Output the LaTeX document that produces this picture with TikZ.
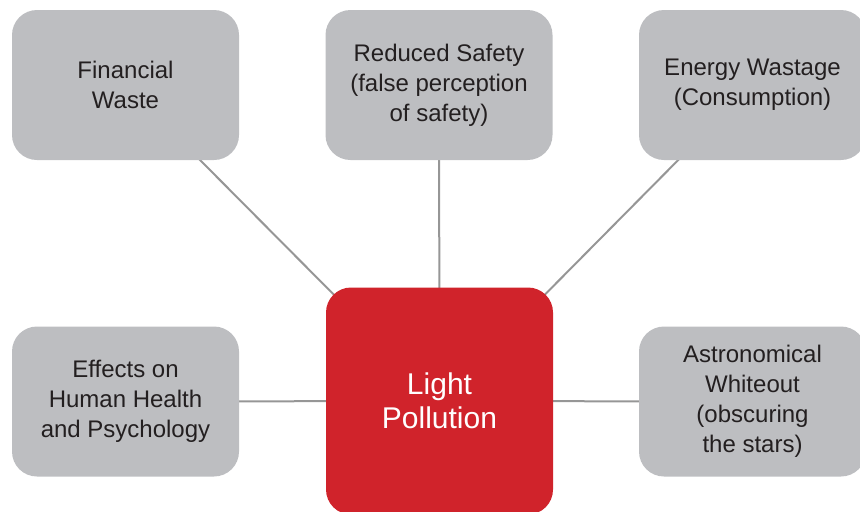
\documentclass[tikz,border=0pt]{standalone}
\usepackage{fontspec}
\setmainfont{Liberation Sans}
\definecolor{boxgray}{RGB}{189,190,193}
\definecolor{lpred}{RGB}{208,35,43}
\definecolor{linkgray}{RGB}{150,150,150}
\definecolor{txtgray}{RGB}{35,31,32}
\pgfdeclarelayer{bg}
\pgfsetlayers{bg,main}

\begin{document}
\begin{tikzpicture}[x=0.5pt,y=-0.5pt]

\tikzstyle{gray_block} = [rectangle, rounded corners=12.5pt, fill=boxgray, text=txtgray,
minimum width=113.5pt, minimum height=75pt, inner sep=0pt, align=center,
font=\fontsize{12}{15}\selectfont]
\tikzstyle{red_block} = [rectangle, rounded corners=12.5pt, fill=lpred, text=white,
minimum width=113.5pt, minimum height=113.5pt, inner sep=0pt, align=center,
font=\fontsize{15}{17}\selectfont]
\tikzstyle{link} = [draw=linkgray, line width=1pt]

\useasboundingbox (0,0) rectangle (860,511);
\clip (0,0) rectangle (860,511);

\node [red_block] (light) at (439.5,401) {Light\\Pollution};

\node [gray_block] (fin) at (125.5,85) {Financial\\Waste};
\node [gray_block] (safety) at (439,85) {Reduced Safety\\(false perception\\of safety)};
\node [gray_block] (energy) at (752.5,85) {Energy Wastage\\(Consumption)};

\node [gray_block] (health) at (125.5,401.5) {Effects on\\Human Health\\and Psychology};
\node [gray_block] (astro) at (752.5,401.5) {Astronomical\\Whiteout\\(obscuring\\the stars)};

\begin{pgfonlayer}{bg}
\draw [link] (fin.center) -- (light.center);
\draw [link] (safety.center) -- (light.center);
\draw [link] (energy.center) -- (light.center);
\draw [link] (health.center) -- (light.center);
\draw [link] (astro.center) -- (light.center);
\end{pgfonlayer}

\end{tikzpicture}
\end{document}
